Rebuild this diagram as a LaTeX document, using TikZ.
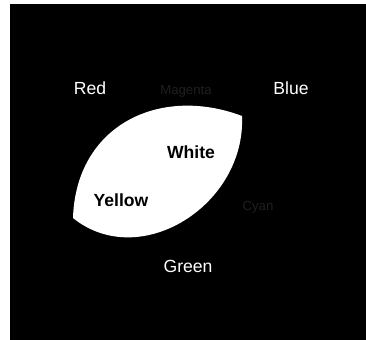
\documentclass[tikz,border=0pt]{standalone}
\usepackage{fontspec}
\setmainfont{Liberation Sans}
\usetikzlibrary{calc}

\begin{document}
\begin{tikzpicture}[x=0.02cm, y=-0.02cm, font=\fontsize{10}{12}\selectfont,
        lbl/.style={text=white, inner sep=0pt},
        dim/.style={text=black!88, font=\fontsize{7.5}{9}\selectfont, inner sep=0pt},
        inlbl/.style={text=black, font=\fontsize{10}{12}\selectfont\bfseries, inner sep=0pt}]
            \useasboundingbox (0,0) rectangle (366,340);
            \fill[black] (10,4) rectangle (366,340);
            \fill[white] (73,218) .. controls (76,125) and (160,85) .. (242,116)
                .. controls (246,205) and (140,272) .. (73,218) -- cycle;
            \node[lbl] (red) at (90,88) {Red};
            \node[lbl] (blue) at (291,88) {Blue};
            \node[lbl] (green) at (188,266) {Green};
            \node[dim] (magenta) at (186,91) {Magenta};
            \node[dim] (cyan) at (258,207) {Cyan};
            \node[inlbl] (white) at (191,152) {White};
            \node[inlbl] (yellow) at (121,200) {Yellow};
        \end{tikzpicture}
\end{document}
